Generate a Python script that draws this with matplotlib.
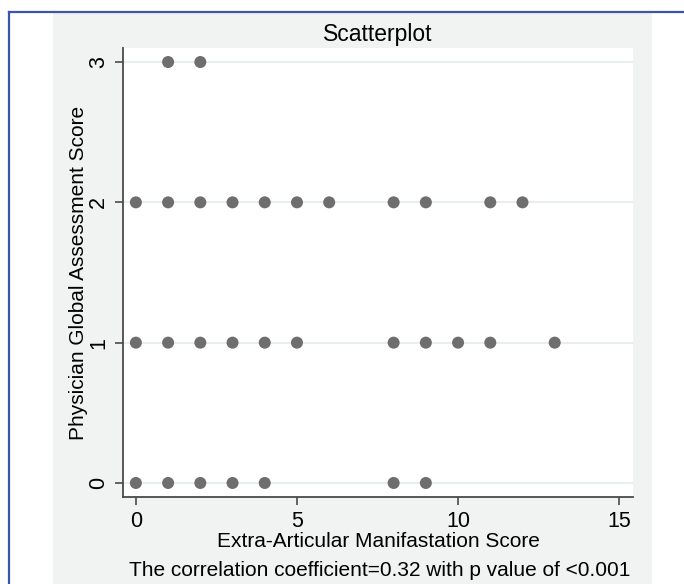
import matplotlib
matplotlib.use("Agg")
import matplotlib.pyplot as plt
from matplotlib.patches import Rectangle
from matplotlib.lines import Line2D

# ── Data ─────────────────────────────────────────────────────────────────────
x_y3 = [1, 2]
x_y2 = [0, 1, 2, 3, 4, 5, 6, 8, 9, 11, 12]
x_y1 = [0, 1, 2, 3, 4, 5, 8, 9, 10, 11, 13]
x_y0 = [0, 1, 2, 3, 4, 8, 9]
x_ticks = [0, 5, 10, 15]
y_ticks = [0, 1, 2, 3]

W, H = 684, 584
plt.rcParams["font.family"] = ["Liberation Sans", "DejaVu Sans"]

fig = plt.figure(figsize=(W / 100, H / 100), dpi=100, facecolor="white")

def fx(px):
    return px / W

def fy(py):
    return 1 - py / H

# gray graph region + blue frame
fig.add_artist(Rectangle((fx(53), fy(584)), fx(652) - fx(53), fy(13) - fy(584),
                         transform=fig.transFigure, facecolor="#f1f3f3",
                         edgecolor="none", zorder=0))
fig.add_artist(Line2D([fx(9), fx(684)], [fy(12), fy(12)], transform=fig.transFigure,
                      color="#3a56a8", lw=1.6))
fig.add_artist(Line2D([fx(9), fx(9)], [fy(12), fy(584)], transform=fig.transFigure,
                      color="#3a56a8", lw=1.6))

ax = fig.add_axes([fx(123), fy(497), fx(633) - fx(123), fy(48) - fy(497)])
ax.set_facecolor("white")

xs, ys = [], []
for lvl, vals in zip([3, 2, 1, 0], [x_y3, x_y2, x_y1, x_y0]):
    xs += vals
    ys += [lvl] * len(vals)
ax.scatter(xs, ys, s=75, color="#6e6e6e", edgecolor="none", zorder=3)

ax.set_xlim(-0.40, 15.43)
ax.set_ylim(-0.10, 3.10)
ax.set_xticks(x_ticks)
ax.set_yticks(y_ticks)
ax.set_yticklabels([str(v) for v in y_ticks], rotation=90, va="center")
ax.grid(axis="y", color="#e4eaec", lw=1.2, zorder=0)
ax.set_axisbelow(True)

for s in ("top", "right"):
    ax.spines[s].set_visible(False)
for s in ("left", "bottom"):
    ax.spines[s].set_color("#4a4a4a")
    ax.spines[s].set_linewidth(1.3)
ax.tick_params(colors="#4a4a4a", length=6, width=1.2, labelsize=15.5,
               labelcolor="black", pad=4)

ax.set_title("Scatterplot", fontsize=16.5, pad=5)
ax.set_xlabel("Extra-Articular Manifastation Score", fontsize=15, labelpad=0)
ax.set_ylabel("Physician Global Assessment Score", fontsize=15, labelpad=0)
fig.text(fx(380), fy(570), "The correlation coefficient=0.32 with p value of <0.001",
         ha="center", va="center", fontsize=15)

fig.savefig("out.png", dpi=100)
